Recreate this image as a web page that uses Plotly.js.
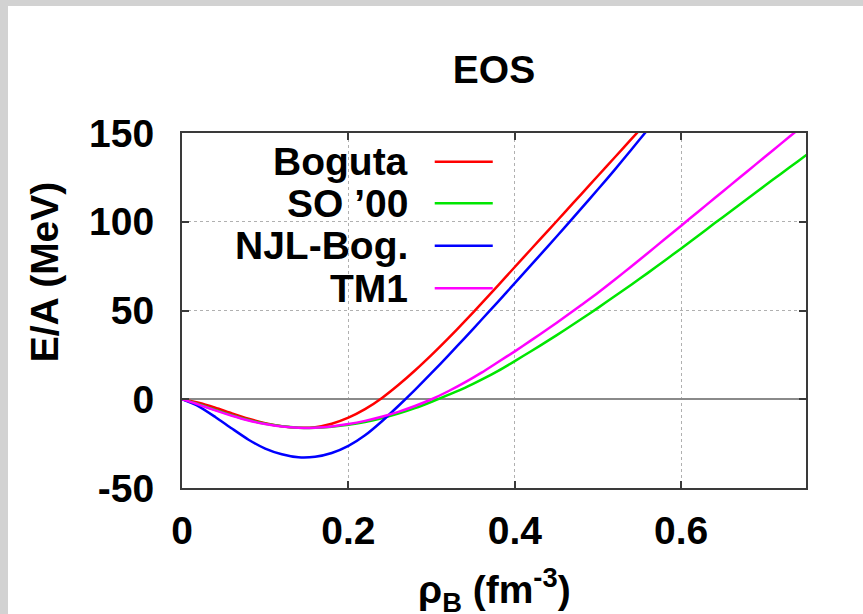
<!DOCTYPE html>
<html>
<head>
<meta charset="utf-8">
<script src="https://cdn.plot.ly/plotly-3.0.1.min.js"></script>
<style>
  html, body { margin: 0; padding: 0; width: 863px; height: 614px; overflow: hidden; background: #d2d2d2; }
  #chart { position: absolute; left: 8px; top: 6px; width: 855px; height: 608px; background: #fff; }
</style>
</head>
<body>
<div id="chart"></div>
<script>
// Baryon density grid (fm^-3)
const density = [0.00, 0.02, 0.04, 0.06, 0.08, 0.10, 0.12, 0.14, 0.16, 0.18,
                 0.20, 0.22, 0.24, 0.26, 0.28, 0.30, 0.32, 0.34, 0.36, 0.38,
                 0.40, 0.42, 0.44, 0.46, 0.48, 0.50, 0.52, 0.54, 0.56, 0.58,
                 0.60, 0.62, 0.64, 0.66, 0.68, 0.70, 0.72, 0.74, 0.76];

// Energy per baryon E/A (MeV) for each model
const boguta = [0, -2, -4.8, -8, -11, -13.5, -15.2, -16, -15.7, -13.8,
                -10.4, -5.6, 0.6, 8, 16.2, 25, 34.3, 44, 54, 64.2,
                74.5, 84.8, 95, 105.3, 115.6, 125.9, 136.2, 146.5, 156.8];
const so00 = [0, -2.8, -6, -9, -11.7, -13.8, -15.2, -16, -16.1, -15.5,
              -14.4, -12.8, -10.7, -8.1, -5, -1.4, 2.5, 6.4, 11, 16,
              21.5, 27.2, 33, 39, 45.2, 51.5, 58, 64.5, 71.2, 78,
              85, 92, 99.1, 106.1, 113.1, 120.1, 127.1, 134, 140.9];
const njlBog = [0, -4, -10, -16.5, -22.8, -27.8, -31, -32.7, -32.4, -30.3,
                -26.3, -20.3, -12.5, -3.8, 5.3, 14.8, 24.6, 34.6, 44.8, 55,
                65.4, 75.8, 86.3, 96.8, 107.5, 118.3, 129.2, 140.6, 152, 163.4];
const tm1 = [0, -3, -6.3, -9.3, -12, -14, -15.4, -16.1, -16, -15.3,
             -14, -12.2, -9.9, -7.1, -3.8, 0, 4.5, 9.5, 15, 21,
             27, 33.3, 39.7, 46.3, 53.1, 60, 67.3, 74.8, 82.4, 90.1,
             97.8, 105.5, 113.2, 120.9, 128.6, 136.3, 144, 151.7, 159.4];

const seriesNames = ['Boguta', 'SO ’00', 'NJL-Bog.', 'TM1'];
const seriesValues = [boguta, so00, njlBog, tm1];
const seriesColors = ['#ff0000', '#00e600', '#0000ff', '#ff00ff'];

const xTicks = [0, 0.2, 0.4, 0.6];
const xTickText = ['0', '0.2', '0.4', '0.6'];
const yTicks = [-50, 0, 50, 100, 150];
const yTickText = ['-50', '0', '50', '100', '150'];

const FONT = 'Liberation Sans, Arial, Helvetica, sans-serif';
const AXIS_COLOR = '#3a3a3a';

const traces = seriesValues.map((vals, i) => ({
  type: 'scatter',
  mode: 'lines',
  x: density.slice(0, vals.length),
  y: vals,
  name: seriesNames[i],
  line: { color: seriesColors[i], width: 2.5, shape: 'spline', smoothing: 0.6 },
  hoverinfo: 'skip',
  showlegend: false
}));

// Key placed in the upper left corner: right-aligned labels with a line sample after each
const keyTextX = 0.366;
const keySampleX0 = 0.405;
const keySampleX1 = 0.498;
const keyRowsY = [0.919, 0.802, 0.6825, 0.5625];

const shapes = [{
  type: 'rect', xref: 'paper', yref: 'paper',
  x0: 0.034, x1: 0.5385, y0: 0.5155, y1: 1,
  fillcolor: '#ffffff', line: { width: 0 }, layer: 'between'
}];
const annotations = [];
seriesNames.forEach((name, i) => {
  annotations.push({
    xref: 'paper', yref: 'paper', x: keyTextX, y: keyRowsY[i],
    xanchor: 'right', yanchor: 'middle', showarrow: false,
    text: name, font: { family: FONT, size: 39, color: '#000', weight: 'bold' }
  });
  shapes.push({
    type: 'line', xref: 'paper', yref: 'paper',
    x0: keySampleX0, x1: keySampleX1, y0: keyRowsY[i], y1: keyRowsY[i],
    line: { color: seriesColors[i], width: 2.5 }, layer: 'above'
  });
});

// Axis titles
annotations.push({
  xref: 'paper', yref: 'paper', x: -0.221, y: 0.608,
  xanchor: 'center', yanchor: 'middle', textangle: -90, showarrow: false,
  text: 'E/A (MeV)', font: { family: FONT, size: 39, color: '#000', weight: 'bold' }
});
annotations.push({
  xref: 'paper', yref: 'paper', x: 0.5, y: -0.287,
  xanchor: 'center', yanchor: 'middle', showarrow: false,
  text: 'ρ<sub>B</sub> (fm<sup>-3</sup>)', font: { family: FONT, size: 39, color: '#000', weight: 'bold' }
});

const layout = {
  width: 855, height: 608,
  margin: { l: 174, r: 57, t: 127, b: 126, pad: 0 },
  paper_bgcolor: '#ffffff',
  plot_bgcolor: '#ffffff',
  font: { family: FONT, size: 39, color: '#000' },
  title: {
    text: 'EOS', xref: 'paper', x: 0.5, xanchor: 'center',
    yref: 'container', y: 0.895, yanchor: 'middle',
    font: { family: FONT, size: 39, color: '#000', weight: 'bold' }
  },
  xaxis: {
    range: [0, 0.75], tickmode: 'array', tickvals: xTicks, ticktext: xTickText,
    ticks: 'inside', ticklen: 7, tickwidth: 2, tickcolor: AXIS_COLOR,
    showline: true, linecolor: AXIS_COLOR, linewidth: 2, mirror: 'ticks',
    showgrid: true, gridcolor: '#b0b0b0', gridwidth: 1, griddash: 'dot',
    zeroline: false, ticklabelstandoff: 7,
    tickfont: { family: FONT, size: 39, color: '#000', weight: 'bold' }
  },
  yaxis: {
    range: [-50, 150], tickmode: 'array', tickvals: yTicks, ticktext: yTickText,
    ticks: 'inside', ticklen: 7, tickwidth: 2, tickcolor: AXIS_COLOR,
    showline: true, linecolor: AXIS_COLOR, linewidth: 2, mirror: 'ticks',
    showgrid: true, gridcolor: '#b0b0b0', gridwidth: 1, griddash: 'dot',
    zeroline: true, zerolinecolor: '#8a8a8a', zerolinewidth: 2,
    ticklabelstandoff: 18,
    tickfont: { family: FONT, size: 39, color: '#000', weight: 'bold' }
  },
  shapes: shapes,
  annotations: annotations,
  showlegend: false
};

Plotly.newPlot('chart', traces, layout, { staticPlot: true, displayModeBar: false });
</script>
</body>
</html>
